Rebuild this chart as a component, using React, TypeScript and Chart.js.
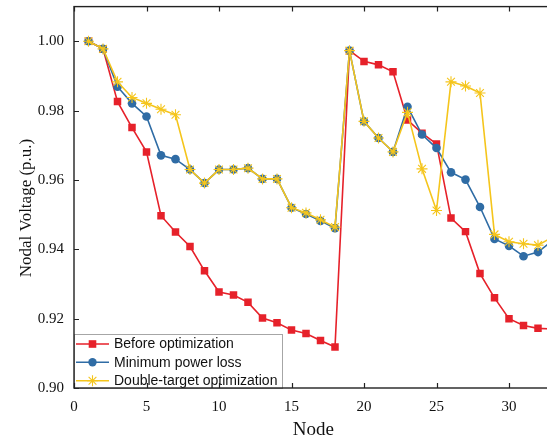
import React, { useEffect, useRef } from 'react';
import { Chart, registerables } from 'chart.js';

Chart.register(...registerables);

// ---- data ----
const nodes = [1, 2, 3, 4, 5, 6, 7, 8, 9, 10, 11, 12, 13, 14, 15, 16, 17, 18, 19, 20, 21, 22, 23, 24, 25, 26, 27, 28, 29, 30, 31, 32, 33];

const beforeOpt = [1.000, 0.9978, 0.9826, 0.9751, 0.9681, 0.9497, 0.9450, 0.9408, 0.9338, 0.9277, 0.9268, 0.9247, 0.9202, 0.9188, 0.9167, 0.9157, 0.9137, 0.9118, 0.9973, 0.9942, 0.9932, 0.9912, 0.9773, 0.9735, 0.9704, 0.9490, 0.9451, 0.9330, 0.9260, 0.9200, 0.9180, 0.9172, 0.9170];

const minLoss = [1.000, 0.9978, 0.9869, 0.9821, 0.9783, 0.9671, 0.9660, 0.9630, 0.9591, 0.9630, 0.9630, 0.9634, 0.9603, 0.9603, 0.9520, 0.9502, 0.9482, 0.9461, 0.9973, 0.9769, 0.9721, 0.9681, 0.9811, 0.9731, 0.9692, 0.9622, 0.9601, 0.9522, 0.9430, 0.9410, 0.9380, 0.9392, 0.9425];

const doubleTarget = [1.000, 0.9978, 0.9883, 0.9838, 0.9821, 0.9804, 0.9788, 0.9630, 0.9591, 0.9630, 0.9630, 0.9634, 0.9603, 0.9603, 0.9520, 0.9505, 0.9485, 0.9464, 0.9973, 0.9769, 0.9721, 0.9681, 0.9795, 0.9632, 0.9512, 0.9883, 0.9871, 0.9851, 0.9443, 0.9422, 0.9416, 0.9412, 0.9435];

const seriesNames = ['Before optimization', 'Minimum power loss', 'Double-target optimization'];
const xTickValues = [0, 5, 10, 15, 20, 25, 30];
const yTickValues = [0.90, 0.92, 0.94, 0.96, 0.98, 1.00];
const xTitle = 'Node';
const yTitle = 'Nodal Voltage (p.u.)';

const RED = '#e6212a';
const BLUE = '#2f6ca5';
const YELLOW = '#f5c51c';

const SERIF = '"Liberation Serif", "Times New Roman", serif';
const SANS = '"Liberation Sans", Arial, sans-serif';

function drawMarker(ctx: CanvasRenderingContext2D, kind: string, x: number, y: number, color: string) {
  ctx.save();
  if (kind === 'rect') {
    ctx.fillStyle = color;
    ctx.fillRect(x - 3.8, y - 3.8, 7.6, 7.6);
  } else if (kind === 'circle') {
    ctx.fillStyle = color;
    ctx.beginPath();
    ctx.arc(x, y, 4.2, 0, Math.PI * 2);
    ctx.fill();
  } else {
    ctx.strokeStyle = color;
    ctx.lineWidth = 1.1;
    const r = 5.5;
    ctx.beginPath();
    for (let k = 0; k < 4; k++) {
      const a = (k * Math.PI) / 4;
      ctx.moveTo(x - Math.cos(a) * r, y - Math.sin(a) * r);
      ctx.lineTo(x + Math.cos(a) * r, y + Math.sin(a) * r);
    }
    ctx.stroke();
  }
  ctx.restore();
}

const framePlugin = {
  id: 'framePlugin',
  afterDatasetsDraw(chart: any) {
    const ctx = chart.ctx as CanvasRenderingContext2D;
    const { left, bottom } = chart.chartArea;
    const bw = 209;
    const bh = 54;
    const bx = left;
    const by = bottom - bh;
    ctx.save();
    ctx.fillStyle = '#ffffff';
    ctx.fillRect(bx, by, bw, bh);
    ctx.strokeStyle = '#a6a6a6';
    ctx.lineWidth = 1;
    ctx.strokeRect(bx + 0.5, by + 0.5, bw - 1, bh);
    const colors = [RED, BLUE, YELLOW];
    const kinds = ['rect', 'circle', 'star'];
    const offs = [10, 28.3, 46.7];
    ctx.font = '14px ' + SANS;
    ctx.textBaseline = 'middle';
    ctx.textAlign = 'left';
    for (let i = 0; i < 3; i++) {
      const cy = by + offs[i];
      ctx.strokeStyle = colors[i];
      ctx.lineWidth = 1.5;
      ctx.beginPath();
      ctx.moveTo(bx + 2, cy);
      ctx.lineTo(bx + 35, cy);
      ctx.stroke();
      drawMarker(ctx, kinds[i], bx + 18.5, cy, colors[i]);
      ctx.fillStyle = '#111111';
      ctx.fillText(seriesNames[i], bx + 40, cy + 0.5);
    }
    ctx.restore();
  },
  afterDraw(chart: any) {
    const ctx = chart.ctx as CanvasRenderingContext2D;
    const { left, right, top, bottom } = chart.chartArea;
    const xs = chart.scales.x;
    const ys = chart.scales.y;
    ctx.save();
    ctx.strokeStyle = '#222222';
    ctx.lineWidth = 1.4;
    ctx.strokeRect(left, top, right - left, bottom - top);
    ctx.lineWidth = 1.2;
    ctx.beginPath();
    const tl = 5;
    for (const v of xTickValues) {
      const px = Math.round(xs.getPixelForValue(v)) + 0.5;
      ctx.moveTo(px, bottom);
      ctx.lineTo(px, bottom - tl);
      ctx.moveTo(px, top);
      ctx.lineTo(px, top + tl);
    }
    for (const v of yTickValues) {
      const py = Math.round(ys.getPixelForValue(v)) + 0.5;
      ctx.moveTo(left, py);
      ctx.lineTo(left + tl, py);
      ctx.moveTo(right, py);
      ctx.lineTo(right - tl, py);
    }
    ctx.stroke();
    // y axis title
    ctx.translate(27, 208);
    ctx.rotate(-Math.PI / 2);
    ctx.font = '17px ' + SERIF;
    ctx.fillStyle = '#111111';
    ctx.textAlign = 'center';
    ctx.textBaseline = 'middle';
    ctx.fillText(yTitle, 0, 0);
    ctx.restore();
  },
};

export default function App() {
  const ref = useRef<HTMLCanvasElement | null>(null);

  useEffect(() => {
    if (!ref.current) return;
    const mk = (arr: number[]) => nodes.map((n, i) => ({ x: n, y: arr[i] }));
    const chart = new Chart(ref.current, {
      type: 'line',
      data: {
        datasets: [
          {
            label: seriesNames[0],
            data: mk(beforeOpt),
            borderColor: RED,
            backgroundColor: RED,
            borderWidth: 1.6,
            pointStyle: 'rect',
            pointRadius: 5.3,
            pointBorderWidth: 0,
            pointBackgroundColor: RED,
            tension: 0,
            order: 3,
          },
          {
            label: seriesNames[1],
            data: mk(minLoss),
            borderColor: BLUE,
            backgroundColor: BLUE,
            borderWidth: 1.6,
            pointStyle: 'circle',
            pointRadius: 4.3,
            pointBorderWidth: 0,
            pointBackgroundColor: BLUE,
            tension: 0,
            order: 2,
          },
          {
            label: seriesNames[2],
            data: mk(doubleTarget),
            borderColor: YELLOW,
            backgroundColor: YELLOW,
            borderWidth: 1.6,
            pointStyle: 'star',
            pointRadius: 5.5,
            pointBorderWidth: 1.1,
            pointBorderColor: YELLOW,
            tension: 0,
            order: 1,
          },
        ],
      },
      options: {
        animation: false,
        responsive: false,
        layout: { padding: { top: 5, right: 7.5, left: 0, bottom: 0 } },
        plugins: { legend: { display: false }, tooltip: { enabled: false } },
        scales: {
          x: {
            type: 'linear',
            min: 0,
            max: 33,
            grid: { display: false, drawTicks: false },
            border: { display: false },
            ticks: {
              stepSize: 5,
              includeBounds: false,
              padding: 10,
              color: '#111',
              font: { family: SERIF, size: 15 },
              callback: (v: any) => (xTickValues.includes(Number(v)) ? String(v) : ''),
            },
            title: {
              display: true,
              text: xTitle,
              color: '#111',
              font: { family: SERIF, size: 19 },
              padding: { top: 0, bottom: 1 },
            },
            afterFit: (s: any) => {
              s.height = 54;
            },
          },
          y: {
            type: 'linear',
            min: 0.9,
            max: 1.01,
            grid: { display: false, drawTicks: false },
            border: { display: false },
            ticks: {
              stepSize: 0.02,
              includeBounds: false,
              padding: 10,
              color: '#111',
              font: { family: SERIF, size: 15 },
              callback: (v: any) => Number(v).toFixed(2),
            },
            title: { display: false },
            afterFit: (s: any) => {
              s.width = 74;
              s.paddingTop = 0;
              s.paddingBottom = 0;
            },
          },
        },
      },
      plugins: [framePlugin],
    } as any);
    return () => chart.destroy();
  }, []);

  return (
    <div style={{ position: 'fixed', left: 0, top: 0, width: 547, height: 442, overflow: 'hidden', background: '#fff' }}>
      <canvas ref={ref} width={560} height={442} style={{ display: 'block', width: 560, height: 442 }} />
    </div>
  );
}
